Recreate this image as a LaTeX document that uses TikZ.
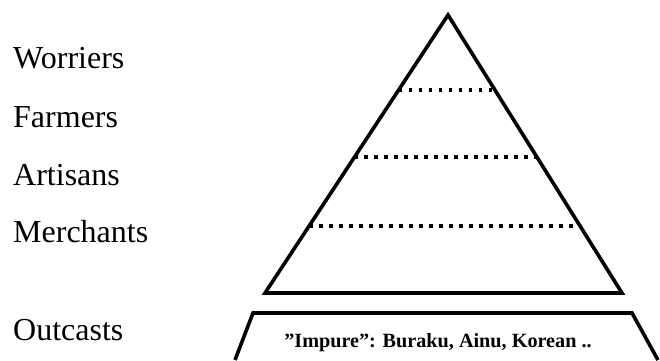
\documentclass[tikz,border=0pt]{standalone}
\usepackage{fontspec}
\setmainfont{Liberation Serif}
\usetikzlibrary{calc}

\begin{document}
\begin{tikzpicture}[
    x=1pt,y=-1pt,
    rank/.style={anchor=base west,inner sep=0pt,
      font=\fontsize{32}{32}\selectfont},
    edge/.style={line width=3.6pt,line join=miter},
    tier/.style={line width=3.5pt,dash pattern=on 3.5pt off 6.5pt}
  ]
    \useasboundingbox (0,0) rectangle (660,360);
    % class names
    \node[rank] (worriers) at (13,68) {Worriers};
    \node[rank] (farmers) at (13,127) {Farmers};
    \node[rank] (artisans) at (13,185) {Artisans};
    \node[rank] (merchants) at (13,242) {Merchants};
    \node[rank] (outcasts) at (13,340) {Outcasts};
    % pyramid
    \coordinate (apex) at (448,15);
    \coordinate (bl) at (265,293);
    \coordinate (br) at (622,293);
    \draw[edge] (apex) -- (bl) -- (br) -- cycle;
    \foreach \t/\n in {0.27/a,0.511/b,0.759/c}{
      \coordinate (l\n) at ($(apex)!\t!(bl)$);
      \coordinate (r\n) at ($(apex)!\t!(br)$);
      \draw[tier] (l\n) -- (r\n);
    }
    % outcast band
    \coordinate (tl) at (253,313);
    \coordinate (tr) at (632,313);
    \draw[edge] (235,360) -- (tl) -- (tr) -- (658,360);
    \node[anchor=base,inner sep=0pt,font=\fontsize{20.2}{21}\selectfont\bfseries]
      (impure) at (438,347) {”Impure”: Buraku, Ainu, Korean ..};
  \end{tikzpicture}
\end{document}
